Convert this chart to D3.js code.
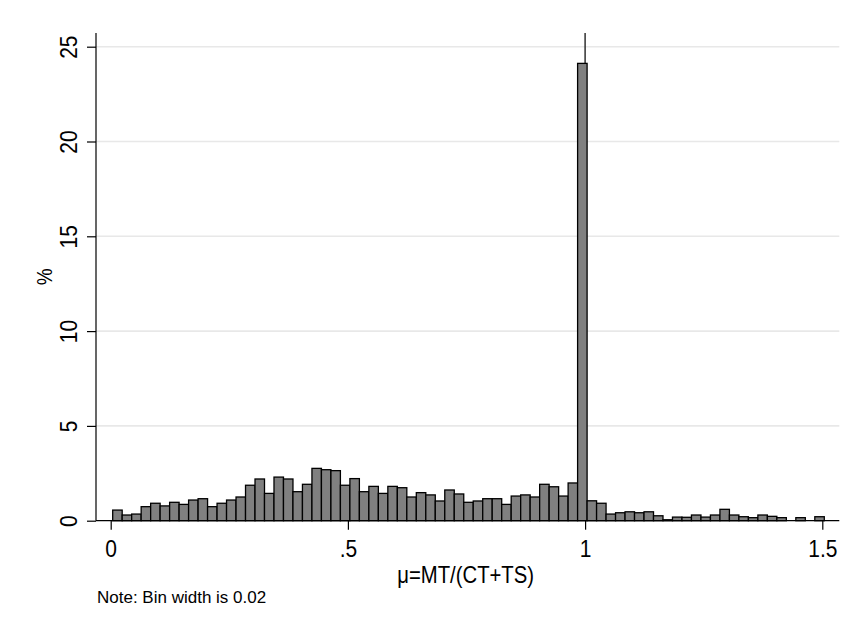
<!DOCTYPE html>
<html>
<head>
<meta charset="utf-8">
<script src="https://cdn.jsdelivr.net/npm/d3@7"></script>
<style>
  body { margin: 0; background: #fff; }
  text { font-family: "Liberation Sans", Arial, sans-serif; fill: #000; }
</style>
</head>
<body>
<script>
// histogram: percent per bin, bin width 0.02 starting near the minimum
var binStart = 0.0042, binWidth = 0.02;
var percents = [
  0.56, 0.30, 0.35, 0.74, 0.92, 0.78, 0.97, 0.86, 1.09, 1.16,
  0.74, 0.92, 1.09, 1.25, 1.87, 2.20, 1.44, 2.30, 2.20, 1.53,
  1.92, 2.76, 2.69, 2.64, 1.87, 2.22, 1.53, 1.81, 1.44, 1.81,
  1.74, 1.25, 1.48, 1.36, 1.04, 1.62, 1.41, 0.97, 1.04, 1.16,
  1.16, 0.86, 1.30, 1.36, 1.25, 1.92, 1.79, 1.30, 1.99, 24.12,
  1.05, 0.92, 0.35, 0.42, 0.47, 0.42, 0.47, 0.26, 0.05, 0.19,
  0.18, 0.30, 0.19, 0.30, 0.60, 0.30, 0.21, 0.16, 0.30, 0.23,
  0.16, 0.00, 0.16, 0.00, 0.21
];
var xTicks = [0, 0.5, 1, 1.5], xTickLabels = ["0", ".5", "1", "1.5"];
var yTicks = [0, 5, 10, 15, 20, 25];
var refLine = 1;

var bins = percents.map((p, i) => ({x0: binStart + i * binWidth, x1: binStart + (i + 1) * binWidth, pct: p}));

var W = 849, H = 626,
    plot = {left: 96, right: 839.3, top: 33, bottom: 520.7},
    stretch = 1.18;   // stata text is drawn a bit taller than wide

var svg = d3.select("body").append("svg")
    .attr("width", W)
    .attr("height", H);

var x = d3.scaleLinear().domain([0, 1.5]).range([110.7, 822.3]),
    y = d3.scaleLinear().domain([0, 25]).range([plot.bottom, 46.7]);

// grid
svg.append("g").selectAll("line")
    .data(yTicks.filter(d => d > 0))
    .enter().append("line")
    .attr("x1", plot.left).attr("x2", plot.right)
    .attr("y1", d => y(d)).attr("y2", d => y(d))
    .attr("stroke", "#e8e8e8").attr("stroke-width", 1.6);

// reference line at 1
svg.append("line")
    .attr("x1", x(refLine)).attr("x2", x(refLine))
    .attr("y1", plot.top).attr("y2", plot.bottom)
    .attr("stroke", "#222").attr("stroke-width", 1.4);

// bars
svg.append("g").selectAll("rect")
    .data(bins.filter(d => d.pct > 0))
    .enter().append("rect")
    .attr("x", d => x(d.x0))
    .attr("width", d => x(d.x1) - x(d.x0))
    .attr("y", d => y(d.pct))
    .attr("height", d => y(0) - y(d.pct))
    .attr("fill", "#808080")
    .attr("stroke", "#000")
    .attr("stroke-width", 1.3);

// y axis
var gy = svg.append("g")
    .attr("transform", `translate(${plot.left},0)`)
    .call(d3.axisLeft(y).tickValues(yTicks).tickSize(9).tickFormat(d3.format("d")));
gy.select(".domain").remove();
gy.selectAll(".tick line").attr("stroke", "#000").attr("stroke-width", 1.2);
gy.selectAll(".tick text")
    .attr("x", 0).attr("y", 0).attr("dy", 0)
    .attr("text-anchor", "middle")
    .attr("transform", `translate(-19,0) rotate(-90) scale(1,${stretch})`)
    .style("font-size", "21px");
gy.attr("font-family", null);

// x axis
var gx = svg.append("g")
    .attr("transform", `translate(0,${plot.bottom})`)
    .call(d3.axisBottom(x).tickValues(xTicks).tickSize(9).tickFormat((d, i) => xTickLabels[i]));
gx.select(".domain").remove();
gx.selectAll(".tick line").attr("stroke", "#000").attr("stroke-width", 1.2);
gx.selectAll(".tick text")
    .attr("y", 0).attr("dy", 0)
    .attr("transform", `translate(0,36.5) scale(1,${stretch})`)
    .style("font-size", "21px");
gx.attr("font-family", null);

// axis lines
svg.append("line")
    .attr("x1", plot.left).attr("x2", plot.left)
    .attr("y1", plot.top).attr("y2", plot.bottom)
    .attr("stroke", "#000").attr("stroke-width", 1.2);
svg.append("line")
    .attr("x1", plot.left).attr("x2", plot.right)
    .attr("y1", plot.bottom).attr("y2", plot.bottom)
    .attr("stroke", "#000").attr("stroke-width", 1.2);

// titles
svg.append("text")
    .attr("transform", `translate(52,${(plot.top + plot.bottom) / 2}) rotate(-90) scale(1,${stretch})`)
    .attr("text-anchor", "middle")
    .style("font-size", "19px")
    .text("%");
svg.append("text")
    .attr("transform", `translate(${(plot.left + plot.right) / 2 - 2},583) scale(1,${stretch})`)
    .attr("text-anchor", "middle")
    .style("font-size", "20.3px")
    .text("μ=MT/(CT+TS)");
svg.append("text")
    .attr("x", 97)
    .attr("y", 603)
    .style("font-size", "17px")
    .text("Note: Bin width is 0.02");
</script>
</body>
</html>
